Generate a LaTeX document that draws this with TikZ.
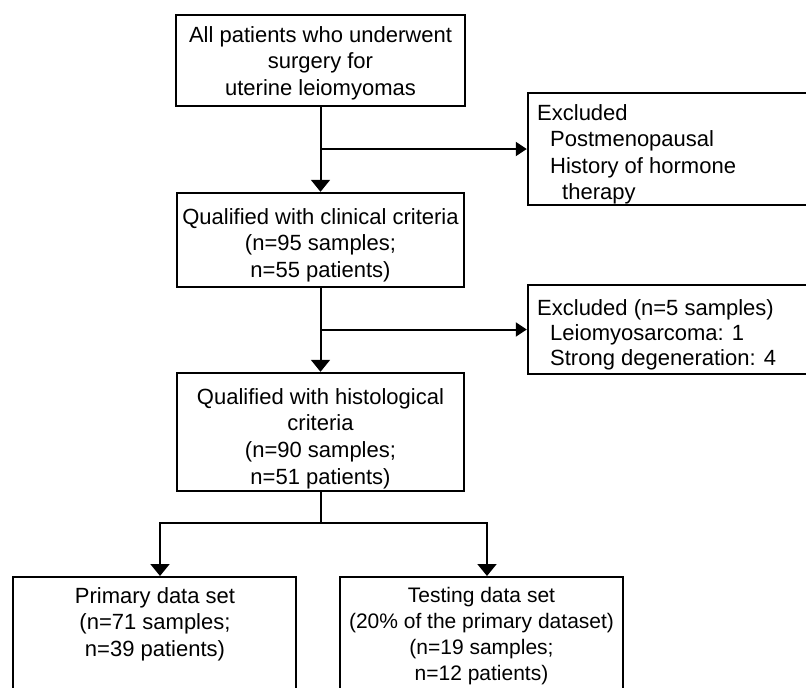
\documentclass[tikz,border=0pt]{standalone}
\usepackage{fontspec}
\setmainfont{Liberation Sans}
\usetikzlibrary{arrows.meta,calc}
\begin{document}
\begin{tikzpicture}[x=1pt,y=-1pt,
  every node/.style={font=\fontsize{22}{26.6}\selectfont},
  box/.style={draw, line width=2.4pt, inner sep=0pt},
  txt/.style={inner sep=0pt, anchor=north, align=center},
  conn/.style={line width=2pt},
  arrd/.style={conn, -{Triangle[width=19pt,length=12pt]}},
  arrr/.style={conn, -{Triangle[width=14pt,length=11pt]}}]
\useasboundingbox (0,0) rectangle (806,688);
\node[box, minimum width=289pt, minimum height=91pt] (b1) at (320.5,60.5) {};
\node[txt] (b1t) at (320.5,26) {All patients who underwent\\surgery for\\uterine leiomyomas};
\node[box, minimum width=287pt, minimum height=94pt] (b2) at (320.5,240) {};
\node[txt] (b2t) at (320.5,208) {Qualified with clinical criteria\\(n=95 samples;\\n=55 patients)};
\node[box, minimum width=287pt, minimum height=118pt] (b3) at (320.5,432) {};
\node[txt, font=\fontsize{22}{26.7}\selectfont] (b3t) at (320.5,388) {Qualified with histological\\criteria\\(n=90 samples;\\n=51 patients)};
\node[box, minimum width=280pt, minimum height=112pt] (e1) at (668,149) {};
\node[txt, anchor=north west, align=left] (e1t) at (537,104) {Excluded\\\hspace*{13pt}Postmenopausal\\\hspace*{13pt}History of hormone\\\hspace*{25pt}therapy};
\node[box, minimum width=280pt, minimum height=89pt] (e2) at (668,329.5) {};
\node[txt, anchor=north west, align=left, font=\fontsize{22}{25.3}\selectfont] (e2t) at (537,299) {Excluded (n=5 samples)\\\hspace*{13pt}Leiomyosarcoma: 1\\\hspace*{13pt}Strong degeneration: 4};
\node[box, minimum width=283pt, minimum height=124pt, anchor=north] (b4) at (154.5,576) {};
\node[txt] (b4t) at (155,587) {Primary data set\\(n=71 samples;\\n=39 patients)};
\node[box, minimum width=283pt, minimum height=124pt, anchor=north] (b5) at (481.5,576) {};
\node[txt, font=\fontsize{21}{26}\selectfont] (b5t) at (481.5,587) {Testing data set\\(20\% of the primary dataset)\\(n=19 samples;\\n=12 patients)};
\draw[arrd] (b1.south) -- (b2.north);
\draw[arrr] (b1.south |- e1.west) -- (e1.west);
\draw[arrd] (b2.south) -- (b3.north);
\draw[arrr] (b2.south |- e2.west) -- (e2.west);
\coordinate (sp) at ($(b3.south)+(0,31)$);
\draw[conn] (b3.south) -- (sp);
\draw[arrd] (sp) -| ([xshift=5.5pt]b4.north);
\draw[arrd] (sp) -| ([xshift=5.5pt]b5.north);
\end{tikzpicture}
\end{document}
